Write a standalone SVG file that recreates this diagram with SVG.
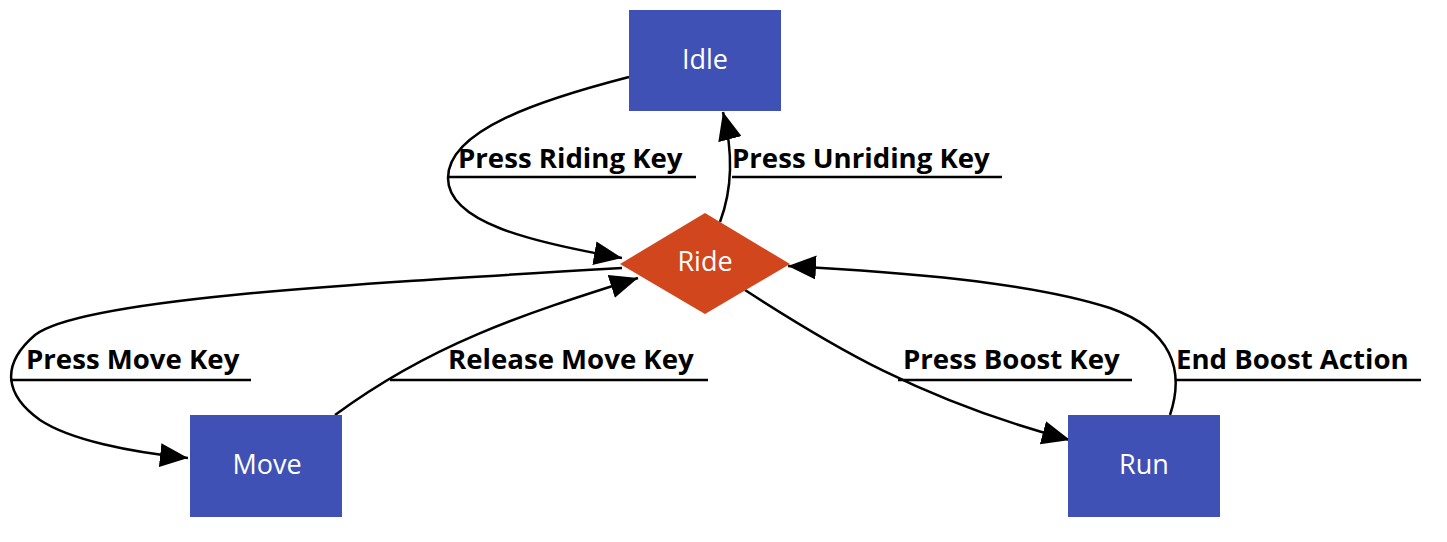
<svg xmlns="http://www.w3.org/2000/svg" width="1447" height="542" viewBox="0 0 1447 542">
<style>
.box{fill:#3f51b5;}
.dia{fill:#d1461d;}
.nt{font-family:"Open Sans","Noto Sans",sans-serif;font-size:27px;fill:#ffffff;text-anchor:middle;dominant-baseline:central;}
.lt{font-family:"Open Sans","Noto Sans",sans-serif;font-size:27.6px;font-weight:bold;fill:#000000;}
.edge{fill:none;stroke:#000;stroke-width:2.5;}
.ul{stroke:#000;stroke-width:2.5;}
</style>
<defs>
<marker id="arr" markerUnits="userSpaceOnUse" markerWidth="30" markerHeight="24" refX="28" refY="12" orient="auto">
<path d="M0,0 L28,12 L0,24 Z" fill="#000"/>
</marker>
</defs>
<rect width="1447" height="542" fill="#fff"/>
<g id="connectors">
<g id="e1">
<path class="edge" d="M629,77 C540,100 448,130 448,178 C448,222 530,242 622,258" marker-end="url(#arr)"/>
<text class="lt" x="458" y="168">Press Riding Key</text>
<line class="ul" x1="448" y1="177" x2="696" y2="177"/>
</g>
<g id="e2">
<path class="edge" d="M720,222 C732,190 734,155 723,112" marker-end="url(#arr)"/>
<text class="lt" x="732" y="168">Press Unriding Key</text>
<line class="ul" x1="732" y1="177" x2="1002" y2="177"/>
</g>
<g id="e3">
<path class="edge" d="M622,268 C330,285 80,300 35,335 C0,365 5,395 40,420 C70,440 130,452 188,458" marker-end="url(#arr)"/>
<text class="lt" x="26" y="369">Press Move Key</text>
<line class="ul" x1="10" y1="380" x2="251" y2="380"/>
</g>
<g id="e4">
<path class="edge" d="M335,415 C430,345 520,315 638,278" marker-end="url(#arr)"/>
<text class="lt" x="448" y="369">Release Move Key</text>
<line class="ul" x1="390" y1="380" x2="708" y2="380"/>
</g>
<g id="e5">
<path class="edge" d="M745,290 C830,345 920,400 1070,440" marker-end="url(#arr)"/>
<text class="lt" x="903" y="369">Press Boost Key</text>
<line class="ul" x1="898" y1="380" x2="1132" y2="380"/>
</g>
<g id="e6">
<path class="edge" d="M1170,415 C1185,370 1172,330 1110,308 C1030,282 900,272 788,266" marker-end="url(#arr)"/>
<text class="lt" x="1176" y="369">End Boost Action</text>
<line class="ul" x1="1176" y1="380" x2="1421" y2="380"/>
</g>
</g>
<g id="Idle">
<rect class="box" x="629" y="10" width="152" height="101"/>
<text class="nt" x="705" y="58">Idle</text>
</g>
<g id="Ride">
<polygon class="dia" points="705,213 790,264 705,314 620,264"/>
<text class="nt" x="705" y="260">Ride</text>
</g>
<g id="Move">
<rect class="box" x="190" y="415" width="152" height="102"/>
<text class="nt" x="267" y="463">Move</text>
</g>
<g id="Run">
<rect class="box" x="1068" y="415" width="152" height="102"/>
<text class="nt" x="1144" y="463">Run</text>
</g>
</svg>
